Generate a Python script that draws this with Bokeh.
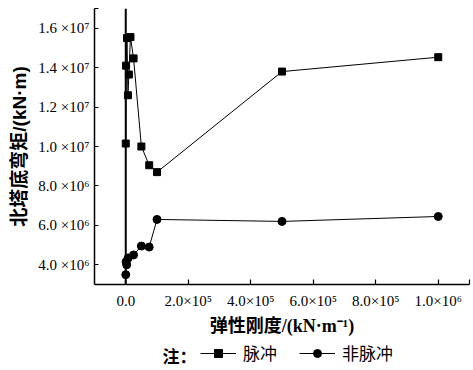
from bokeh.plotting import figure
from bokeh.layouts import column
from bokeh.models import FixedTicker, Span, Legend, LegendItem, Label
from bokeh.embed import file_html
from bokeh.resources import INLINE

# 脉冲 (pulse)
pulse_x = [0, 1e3, 4e3, 7e3, 1e4, 1.5e4, 2.5e4, 5e4, 7.5e4, 1e5, 5e5, 1e6]
pulse_y = [1.015e7, 1.41e7, 1.55e7, 1.26e7, 1.365e7, 1.555e7, 1.447e7, 1.0e7, 9.05e6, 8.7e6, 1.38e7, 1.453e7]

# 非脉冲 (non-pulse)
nonpulse_x = [0, 1e3, 3e3, 8e3, 2.5e4, 5e4, 7.5e4, 1e5, 5e5, 1e6]
nonpulse_y = [3.5e6, 4.15e6, 4.0e6, 4.35e6, 4.5e6, 4.95e6, 4.9e6, 6.3e6, 6.2e6, 6.45e6]

x_ticks = [0, 2e5, 4e5, 6e5, 8e5, 1e6, 1.1e6]
x_labels = ["0.0", "2.0×10⁵", "4.0×10⁵", "6.0×10⁵", "8.0×10⁵", "1.0×10⁶", ""]
y_ticks = [4e6, 6e6, 8e6, 1e7, 1.2e7, 1.4e7, 1.6e7, 1.7e7]
y_labels = ["4.0 ×10⁶", "6.0 ×10⁶", "8.0 ×10⁶", "1.0 ×10⁷", "1.2 ×10⁷", "1.4 ×10⁷", "1.6 ×10⁷", ""]

x_title = "弹性刚度/(kN·m⁻¹)"
y_title = "北塔底弯矩/(kN·m)"
note_text = "注："
names = ["脉冲", "非脉冲"]

SERIF = "Liberation Serif"
CJK = "Noto Sans CJK SC"
X_TITLE_FONT = "'Liberation Serif', 'Noto Sans CJK SC'"
Y_TITLE_FONT = "'Liberation Sans', 'Noto Sans CJK SC'"

W = 473
H_MAIN = 338
H_LEG = 32
BL, BR = 94, 4

p = figure(width=W, height=H_MAIN, x_range=(-1e5, 1.1e6), y_range=(3e6, 1.7e7),
           output_backend="svg", toolbar_location=None,
           min_border_left=BL, min_border_right=BR, min_border_top=8, min_border_bottom=50)
p.outline_line_color = None
p.xgrid.visible = False
p.ygrid.visible = False
p.background_fill_color = "white"
p.border_fill_color = "white"

for ax in (p.xaxis[0], p.yaxis[0]):
    ax.axis_line_color = "black"
    ax.axis_line_width = 1.5
    ax.major_tick_line_color = "black"
    ax.major_tick_line_width = 1.2
    ax.minor_tick_line_color = None
    ax.major_tick_out = 0
    ax.major_label_text_font = SERIF
    ax.major_label_text_font_size = "15px"
    ax.major_label_text_color = "black"
    ax.axis_label_text_font_style = "bold"
    ax.axis_label_text_color = "black"

p.xaxis[0].ticker = FixedTicker(ticks=x_ticks)
p.xaxis[0].major_label_overrides = {t: l for t, l in zip(x_ticks, x_labels)}
p.xaxis[0].major_tick_in = 5
p.xaxis[0].major_label_standoff = 8
p.xaxis[0].axis_label = x_title
p.xaxis[0].axis_label_text_font = X_TITLE_FONT
p.xaxis[0].axis_label_text_font_size = "18px"
p.xaxis[0].axis_label_standoff = 4

p.yaxis[0].ticker = FixedTicker(ticks=y_ticks)
p.yaxis[0].major_label_overrides = {t: l for t, l in zip(y_ticks, y_labels)}
p.yaxis[0].major_tick_in = 4
p.yaxis[0].major_label_standoff = 5
p.yaxis[0].axis_label = y_title
p.yaxis[0].axis_label_text_font = Y_TITLE_FONT
p.yaxis[0].axis_label_text_font_size = "19px"
p.yaxis[0].axis_label_standoff = 5

p.add_layout(Span(location=0, dimension="height", line_color="black", line_width=2))

p.line(pulse_x, pulse_y, line_color="black", line_width=1)
p.scatter(pulse_x, pulse_y, marker="square", size=7, fill_color="black", line_color="black")
p.line(nonpulse_x, nonpulse_y, line_color="black", line_width=1)
p.scatter(nonpulse_x, nonpulse_y, marker="circle", size=8, fill_color="black", line_color="black")

# legend strip below the chart; its frame is aligned with the main frame,
# and its ranges are in canvas pixels
q = figure(width=W, height=H_LEG, x_range=(BL, W - BR), y_range=(0, H_LEG),
           output_backend="svg", toolbar_location=None,
           min_border_left=BL, min_border_right=BR, min_border_top=0, min_border_bottom=0)
q.xaxis.visible = False
q.yaxis.visible = False
q.xgrid.visible = False
q.ygrid.visible = False
q.outline_line_color = None
q.background_fill_color = "white"
q.border_fill_color = "white"

# legend proxies: the same series, all far outside this strip's y-range (not visible here)
k1 = q.line(pulse_x, pulse_y, line_color="black", line_width=1)
s1 = q.scatter(pulse_x, pulse_y, marker="square", size=7, fill_color="black", line_color="black")
k2 = q.line(nonpulse_x, nonpulse_y, line_color="black", line_width=1)
s2 = q.scatter(nonpulse_x, nonpulse_y, marker="circle", size=8, fill_color="black", line_color="black")

legend = Legend(items=[LegendItem(label=names[0], renderers=[k1, s1]),
                       LegendItem(label=names[1], renderers=[k2, s2])],
                location=(200 - BL, 5), orientation="horizontal",
                padding=0, margin=0, spacing=22, label_standoff=7,
                glyph_width=36, glyph_height=20,
                border_line_color=None, background_fill_alpha=0,
                label_text_font=CJK, label_text_font_size="17px",
                label_text_color="black", label_height=20)
q.add_layout(legend, "center")

q.add_layout(Label(x=162, y=15, text=note_text, text_font=CJK,
                   text_font_size="17px", text_font_style="bold",
                   text_color="black", text_baseline="middle"))

open("out.html", "w").write(file_html(column(p, q, spacing=0), INLINE))
